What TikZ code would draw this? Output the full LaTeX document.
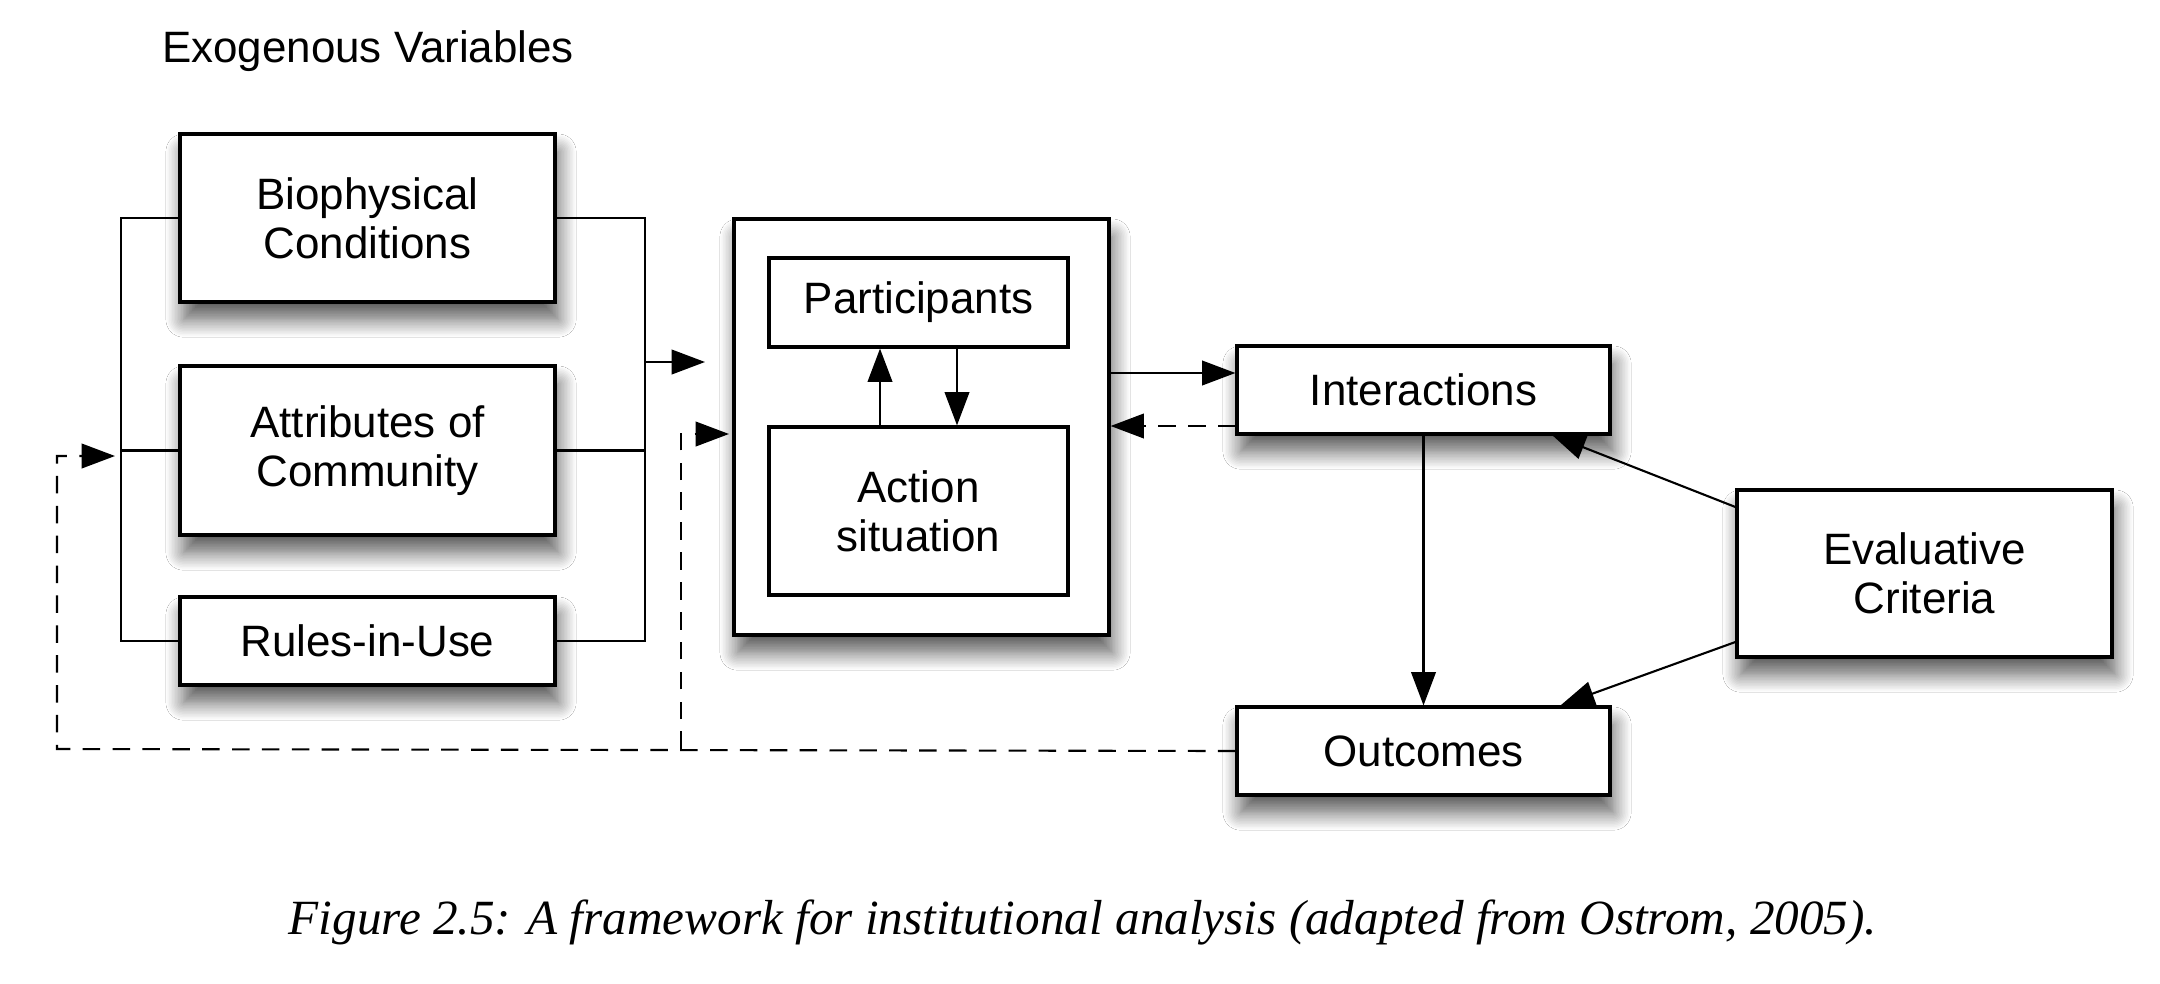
\documentclass[tikz,border=0pt]{standalone}
\usepackage{fontspec}
\setmainfont{Liberation Sans}
\newfontfamily\capfont{Liberation Serif}
\usetikzlibrary{arrows.meta,shadows.blur}
\begin{document}
\begin{tikzpicture}[x=0.1mm,y=-0.1mm,
  box/.style={draw,line width=0.9pt,fill=white,align=center,inner sep=0pt,font=\fontsize{12.5}{14}\selectfont},
  shbox/.style={box,blur shadow={shadow xshift=1pt,shadow yshift=-5pt,shadow blur radius=5pt,shadow blur steps=12,shadow opacity=65}},
  conn/.style={line width=0.6pt},
  arr/.style={conn,-{Triangle[length=9.5pt,width=7pt]}},
  fb/.style={arr,dash pattern=on 5pt off 3.5pt}]
\useasboundingbox (0,0) rectangle (2160,983);
\fill[white] (0,0) rectangle (2160,983);

\node[font=\fontsize{12.5}{14}\selectfont] (exo) at (368,51) {Exogenous Variables};

\node[shbox,minimum width=37.5mm,minimum height=16.8mm] (bio) at (367.5,218) {Biophysical\\Conditions};
\node[shbox,minimum width=37.5mm,minimum height=16.9mm] (attr) at (367.5,450.5) {Attributes of\\Community};
\node[shbox,minimum width=37.5mm,minimum height=8.8mm] (rules) at (367.5,641) {Rules-in-Use};

\node[shbox,minimum width=37.5mm,minimum height=41.6mm] (outer) at (921.5,427) {};
\node[box,minimum width=29.9mm,minimum height=8.9mm] (part) at (918.5,302.5) {Participants};
\node[box,minimum width=29.9mm,minimum height=16.8mm] (act) at (918.5,511) {Action\\situation};

\node[shbox,minimum width=37.3mm,minimum height=8.8mm] (inter) at (1423.5,390) {Interactions};
\node[shbox,minimum width=37.3mm,minimum height=8.8mm] (outc) at (1423.5,751) {Outcomes};
\node[shbox,minimum width=37.5mm,minimum height=16.7mm] (eval) at (1924.5,573.5) {Evaluative\\Criteria};

% left bracket
\coordinate (lbx) at (121,450.5);
\draw[conn] (bio.west) -- (bio.west -| lbx) -- (rules.west -| lbx) -- (rules.west);
\draw[conn] (attr.west) -- (lbx);
% right bracket
\coordinate (rbx) at (645,362);
\coordinate (rbt) at (705,362);
\draw[conn] (bio.east) -- (bio.east -| rbx) -- (rules.east -| rbx) -- (rules.east);
\draw[conn] (attr.east) -- (attr.east -| rbx);
\draw[arr] (rbx) -- (rbt);

% participants / action situation
\draw[arr] (act.north -| 880,0) -- (part.south -| 880,0);
\draw[arr] (part.south -| 957,0) -- (act.north -| 957,0);

% outer -> interactions
\draw[arr] (outer.east |- 0,373) -- (inter.west |- 0,373);
\draw[fb] (inter.west |- 0,426) -- (outer.east |- 0,426);

% interactions -> outcomes
\draw[arr] (inter.south) -- (outc.north);
% evaluative criteria
\draw[arr] (eval.west |- 0,507) -- (1552,435);
\draw[arr] (eval.west |- 0,642) -- (1561,705);

% feedback dashed
\coordinate (fl) at (57,749);
\coordinate (fr) at (681,749);
\coordinate (flt) at (115,456);
\coordinate (frt) at (729,434);
\draw[fb] (outc.west) -- (fl) |- (flt);
\draw[fb] (fr) |- (frt);

\node[font=\capfont\itshape\fontsize{14}{16}\selectfont] (cap) at (1083,922) {Figure 2.5: A framework for institutional analysis (adapted from Ostrom, 2005).};
\end{tikzpicture}
\end{document}
